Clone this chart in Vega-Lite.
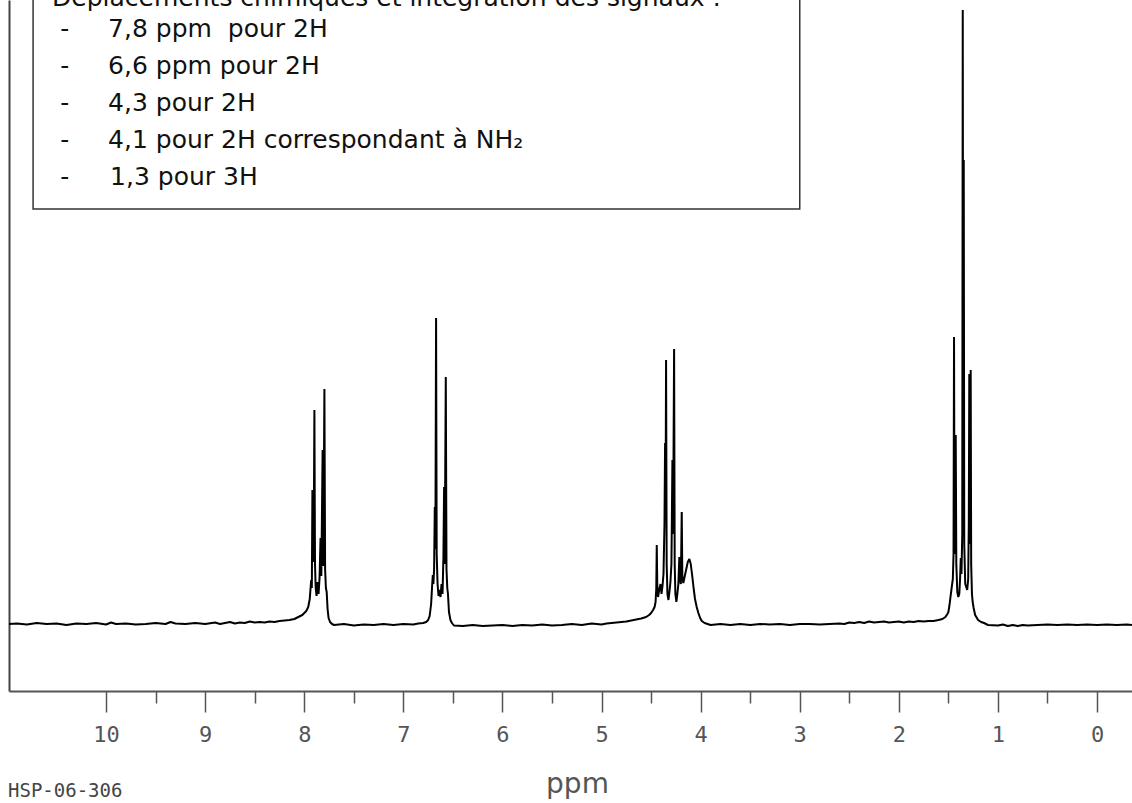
{
  "$schema": "https://vega.github.io/schema/vega-lite/v6.json",
  "width": 1123,
  "height": 691,
  "autosize": "none",
  "padding": {"left": 9, "top": 0, "right": 0, "bottom": 112},
  "background": "white",
  "config": {"view": {"stroke": null}},
  "datasets": {
    "spectrum": [
      {"ppm": 10.98, "int": 0}, {"ppm": 10.9, "int": 0.5}, {"ppm": 10.8, "int": -0.5}, {"ppm": 10.7, "int": 1}, {"ppm": 10.6, "int": 0},
      {"ppm": 10.5, "int": 0.5}, {"ppm": 10.4, "int": -1}, {"ppm": 10.3, "int": 0.5}, {"ppm": 10.2, "int": 0}, {"ppm": 10.1, "int": 1},
      {"ppm": 10.0, "int": -0.5}, {"ppm": 9.95, "int": 1.5}, {"ppm": 9.9, "int": 0}, {"ppm": 9.8, "int": 0.5}, {"ppm": 9.7, "int": -0.5},
      {"ppm": 9.6, "int": 0}, {"ppm": 9.5, "int": 1}, {"ppm": 9.4, "int": 0}, {"ppm": 9.35, "int": 2}, {"ppm": 9.3, "int": 0.5},
      {"ppm": 9.2, "int": 0}, {"ppm": 9.1, "int": 1}, {"ppm": 9.0, "int": 0}, {"ppm": 8.9, "int": 1.5}, {"ppm": 8.85, "int": 0},
      {"ppm": 8.8, "int": 1}, {"ppm": 8.75, "int": 2}, {"ppm": 8.7, "int": 0.5}, {"ppm": 8.65, "int": 1.5}, {"ppm": 8.6, "int": 1},
      {"ppm": 8.55, "int": 2.5}, {"ppm": 8.5, "int": 1.5}, {"ppm": 8.45, "int": 2}, {"ppm": 8.4, "int": 1.5}, {"ppm": 8.35, "int": 2.5},
      {"ppm": 8.3, "int": 2}, {"ppm": 8.25, "int": 3}, {"ppm": 8.2, "int": 3.5}, {"ppm": 8.15, "int": 4}, {"ppm": 8.1, "int": 5},
      {"ppm": 8.06, "int": 7}, {"ppm": 8.02, "int": 9}, {"ppm": 7.98, "int": 13}, {"ppm": 7.96, "int": 17}, {"ppm": 7.945, "int": 25},
      {"ppm": 7.935, "int": 38}, {"ppm": 7.93, "int": 44}, {"ppm": 7.924, "int": 36}, {"ppm": 7.918, "int": 134}, {"ppm": 7.912, "int": 62},
      {"ppm": 7.905, "int": 78}, {"ppm": 7.898, "int": 214}, {"ppm": 7.892, "int": 60}, {"ppm": 7.885, "int": 36}, {"ppm": 7.876, "int": 28},
      {"ppm": 7.866, "int": 42}, {"ppm": 7.856, "int": 30}, {"ppm": 7.846, "int": 46}, {"ppm": 7.836, "int": 86}, {"ppm": 7.828, "int": 48},
      {"ppm": 7.815, "int": 174}, {"ppm": 7.808, "int": 58}, {"ppm": 7.797, "int": 235}, {"ppm": 7.79, "int": 55}, {"ppm": 7.782, "int": 36},
      {"ppm": 7.774, "int": 32}, {"ppm": 7.765, "int": 15}, {"ppm": 7.755, "int": 6}, {"ppm": 7.74, "int": 2}, {"ppm": 7.72, "int": 0},
      {"ppm": 7.7, "int": -1}, {"ppm": 7.6, "int": 0}, {"ppm": 7.5, "int": -1.5}, {"ppm": 7.4, "int": -0.5}, {"ppm": 7.3, "int": -1},
      {"ppm": 7.2, "int": 0}, {"ppm": 7.1, "int": -1}, {"ppm": 7.0, "int": 0}, {"ppm": 6.9, "int": -0.5}, {"ppm": 6.85, "int": 0.5},
      {"ppm": 6.8, "int": 1}, {"ppm": 6.77, "int": 2}, {"ppm": 6.75, "int": 4}, {"ppm": 6.735, "int": 8}, {"ppm": 6.72, "int": 20},
      {"ppm": 6.71, "int": 38}, {"ppm": 6.703, "int": 49}, {"ppm": 6.697, "int": 40}, {"ppm": 6.69, "int": 55}, {"ppm": 6.683, "int": 117},
      {"ppm": 6.677, "int": 75}, {"ppm": 6.67, "int": 306}, {"ppm": 6.664, "int": 70}, {"ppm": 6.655, "int": 40}, {"ppm": 6.645, "int": 28},
      {"ppm": 6.635, "int": 34}, {"ppm": 6.625, "int": 27}, {"ppm": 6.615, "int": 40}, {"ppm": 6.605, "int": 30}, {"ppm": 6.596, "int": 67},
      {"ppm": 6.589, "int": 137}, {"ppm": 6.583, "int": 60}, {"ppm": 6.572, "int": 247}, {"ppm": 6.565, "int": 55}, {"ppm": 6.557, "int": 36},
      {"ppm": 6.55, "int": 30}, {"ppm": 6.54, "int": 12}, {"ppm": 6.525, "int": 4}, {"ppm": 6.51, "int": 1}, {"ppm": 6.49, "int": -1.5},
      {"ppm": 6.4, "int": -2}, {"ppm": 6.3, "int": -1}, {"ppm": 6.2, "int": -2}, {"ppm": 6.1, "int": -1.5}, {"ppm": 6.0, "int": -1},
      {"ppm": 5.9, "int": -2}, {"ppm": 5.8, "int": -1}, {"ppm": 5.7, "int": -1.5}, {"ppm": 5.6, "int": -0.5}, {"ppm": 5.5, "int": -1.5},
      {"ppm": 5.4, "int": -1}, {"ppm": 5.3, "int": 0}, {"ppm": 5.2, "int": -1}, {"ppm": 5.1, "int": 0.5}, {"ppm": 5.0, "int": -0.5},
      {"ppm": 4.95, "int": 0.5}, {"ppm": 4.9, "int": 1}, {"ppm": 4.85, "int": 1.5}, {"ppm": 4.8, "int": 2}, {"ppm": 4.75, "int": 2.5},
      {"ppm": 4.7, "int": 3.5}, {"ppm": 4.65, "int": 4.5}, {"ppm": 4.6, "int": 5.5}, {"ppm": 4.55, "int": 7}, {"ppm": 4.52, "int": 9},
      {"ppm": 4.5, "int": 11}, {"ppm": 4.48, "int": 14}, {"ppm": 4.465, "int": 17}, {"ppm": 4.455, "int": 22}, {"ppm": 4.448, "int": 35},
      {"ppm": 4.443, "int": 79}, {"ppm": 4.438, "int": 40}, {"ppm": 4.43, "int": 27}, {"ppm": 4.42, "int": 33}, {"ppm": 4.405, "int": 40},
      {"ppm": 4.395, "int": 30}, {"ppm": 4.385, "int": 38}, {"ppm": 4.375, "int": 50}, {"ppm": 4.365, "int": 100}, {"ppm": 4.359, "int": 181},
      {"ppm": 4.354, "int": 120}, {"ppm": 4.349, "int": 264}, {"ppm": 4.343, "int": 60}, {"ppm": 4.335, "int": 30}, {"ppm": 4.325, "int": 24},
      {"ppm": 4.315, "int": 32}, {"ppm": 4.305, "int": 42}, {"ppm": 4.295, "int": 60}, {"ppm": 4.29, "int": 110}, {"ppm": 4.285, "int": 164},
      {"ppm": 4.278, "int": 90}, {"ppm": 4.268, "int": 275}, {"ppm": 4.262, "int": 60}, {"ppm": 4.255, "int": 30}, {"ppm": 4.245, "int": 22},
      {"ppm": 4.235, "int": 30}, {"ppm": 4.225, "int": 40}, {"ppm": 4.215, "int": 67}, {"ppm": 4.208, "int": 45}, {"ppm": 4.2, "int": 40},
      {"ppm": 4.191, "int": 112}, {"ppm": 4.185, "int": 48}, {"ppm": 4.175, "int": 41}, {"ppm": 4.16, "int": 48}, {"ppm": 4.145, "int": 55},
      {"ppm": 4.13, "int": 62}, {"ppm": 4.114, "int": 65}, {"ppm": 4.1, "int": 60}, {"ppm": 4.085, "int": 48}, {"ppm": 4.07, "int": 35},
      {"ppm": 4.057, "int": 25}, {"ppm": 4.04, "int": 17}, {"ppm": 4.023, "int": 11}, {"ppm": 4.005, "int": 6}, {"ppm": 3.989, "int": 3},
      {"ppm": 3.96, "int": 1}, {"ppm": 3.93, "int": 0}, {"ppm": 3.9, "int": -1}, {"ppm": 3.8, "int": 0}, {"ppm": 3.7, "int": -1},
      {"ppm": 3.6, "int": 0}, {"ppm": 3.5, "int": -1}, {"ppm": 3.4, "int": 0}, {"ppm": 3.3, "int": -0.5}, {"ppm": 3.2, "int": 0},
      {"ppm": 3.1, "int": -1}, {"ppm": 3.0, "int": 0}, {"ppm": 2.9, "int": 0}, {"ppm": 2.8, "int": -0.5}, {"ppm": 2.7, "int": 0},
      {"ppm": 2.6, "int": 0.5}, {"ppm": 2.55, "int": 0}, {"ppm": 2.5, "int": 1.5}, {"ppm": 2.45, "int": 1}, {"ppm": 2.4, "int": 2},
      {"ppm": 2.35, "int": 1}, {"ppm": 2.3, "int": 2.5}, {"ppm": 2.25, "int": 1.5}, {"ppm": 2.2, "int": 2}, {"ppm": 2.15, "int": 2.5},
      {"ppm": 2.1, "int": 1.5}, {"ppm": 2.05, "int": 2}, {"ppm": 2.0, "int": 2.5}, {"ppm": 1.95, "int": 1.5}, {"ppm": 1.9, "int": 2.5},
      {"ppm": 1.85, "int": 2}, {"ppm": 1.8, "int": 3}, {"ppm": 1.75, "int": 2.5}, {"ppm": 1.7, "int": 3}, {"ppm": 1.65, "int": 3},
      {"ppm": 1.6, "int": 4}, {"ppm": 1.56, "int": 5}, {"ppm": 1.53, "int": 7}, {"ppm": 1.51, "int": 10}, {"ppm": 1.5, "int": 12},
      {"ppm": 1.49, "int": 18}, {"ppm": 1.475, "int": 30}, {"ppm": 1.466, "int": 37}, {"ppm": 1.455, "int": 45}, {"ppm": 1.448, "int": 70},
      {"ppm": 1.443, "int": 287}, {"ppm": 1.438, "int": 70}, {"ppm": 1.43, "int": 80}, {"ppm": 1.426, "int": 189}, {"ppm": 1.42, "int": 60},
      {"ppm": 1.41, "int": 32}, {"ppm": 1.4, "int": 27}, {"ppm": 1.39, "int": 30}, {"ppm": 1.382, "int": 45}, {"ppm": 1.375, "int": 66},
      {"ppm": 1.368, "int": 50}, {"ppm": 1.36, "int": 90}, {"ppm": 1.355, "int": 614}, {"ppm": 1.35, "int": 150}, {"ppm": 1.345, "int": 464},
      {"ppm": 1.34, "int": 80}, {"ppm": 1.33, "int": 40}, {"ppm": 1.32, "int": 37}, {"ppm": 1.31, "int": 34}, {"ppm": 1.3, "int": 45},
      {"ppm": 1.294, "int": 100}, {"ppm": 1.289, "int": 250}, {"ppm": 1.284, "int": 80}, {"ppm": 1.279, "int": 120}, {"ppm": 1.275, "int": 254},
      {"ppm": 1.27, "int": 60}, {"ppm": 1.262, "int": 30}, {"ppm": 1.255, "int": 22}, {"ppm": 1.245, "int": 16}, {"ppm": 1.23, "int": 9},
      {"ppm": 1.2, "int": 4}, {"ppm": 1.17, "int": 2}, {"ppm": 1.14, "int": 1}, {"ppm": 1.1, "int": -1}, {"ppm": 1.0, "int": -1.5},
      {"ppm": 0.95, "int": -0.5}, {"ppm": 0.9, "int": -2}, {"ppm": 0.85, "int": -1}, {"ppm": 0.8, "int": -2}, {"ppm": 0.75, "int": -1},
      {"ppm": 0.7, "int": -1.5}, {"ppm": 0.6, "int": -1}, {"ppm": 0.5, "int": -0.5}, {"ppm": 0.4, "int": -1}, {"ppm": 0.3, "int": -0.5},
      {"ppm": 0.2, "int": -1}, {"ppm": 0.1, "int": -0.5}, {"ppm": 0.0, "int": -1}, {"ppm": -0.1, "int": -0.5}, {"ppm": -0.2, "int": -1},
      {"ppm": -0.3, "int": -0.5}, {"ppm": -0.353, "int": -1}
    ],
    "box": [{"ppm": 10.737, "ppm2": 3.0, "int": 415, "int2": 720}],
    "dashes": [
      {"ppm": 10.464, "int": 587, "t": "-"}, {"ppm": 10.464, "int": 550, "t": "-"}, {"ppm": 10.464, "int": 513, "t": "-"},
      {"ppm": 10.464, "int": 476, "t": "-"}, {"ppm": 10.464, "int": 439, "t": "-"}
    ],
    "lines": [
      {"ppm": 10.545, "int": 618, "t": "Déplacements chimiques et intégration des signaux :"},
      {"ppm": 9.98, "int": 587, "t": "7,8 ppm\u00a0 pour 2H"},
      {"ppm": 9.98, "int": 550, "t": "6,6 ppm pour 2H"},
      {"ppm": 9.98, "int": 513, "t": "4,3 pour 2H"},
      {"ppm": 9.98, "int": 476, "t": "4,1 pour 2H correspondant à NH₂"},
      {"ppm": 9.96, "int": 439, "t": "1,3 pour 3H"}
    ],
    "code": [{"ppm": 10.99, "int": -173, "t": "HSP-06-306"}]
  },
  "encoding": {
    "x": {
      "field": "ppm",
      "type": "quantitative",
      "scale": {"domain": [-0.353, 10.98], "reverse": true, "nice": false, "zero": false},
      "axis": {
        "values": [0, 0.5, 1, 1.5, 2, 2.5, 3, 3.5, 4, 4.5, 5, 5.5, 6, 6.5, 7, 7.5, 8, 8.5, 9, 9.5, 10],
        "title": "ppm",
        "grid": false,
        "domainColor": "#555",
        "domainWidth": 2,
        "tickColor": "#555",
        "tickWidth": 1.5,
        "tickSize": {"condition": {"test": "datum.value % 1 === 0", "value": 21}, "value": 12},
        "labelExpr": "datum.value % 1 === 0 ? format(datum.value, 'd') : ''",
        "labelFont": "DejaVu Sans Mono",
        "labelFontSize": 22,
        "labelColor": "#555",
        "labelPadding": 12,
        "labelOverlap": false,
        "labelFlush": false,
        "titleFont": "DejaVu Sans",
        "titleFontSize": 28,
        "titleFontWeight": "normal",
        "titleColor": "#555",
        "titleY": 79,
        "titleX": 568,
        "titleBaseline": "top"
      }
    },
    "y": {
      "field": "int",
      "type": "quantitative",
      "scale": {"domain": [-67, 624], "nice": false, "zero": false},
      "axis": {"ticks": false, "labels": false, "grid": false, "title": null, "domainColor": "#444", "domainWidth": 2}
    }
  },
  "layer": [
    {
      "data": {"name": "spectrum"},
      "mark": {"type": "line", "color": "black", "strokeWidth": 2, "strokeJoin": "bevel"}
    },
    {
      "data": {"name": "box"},
      "mark": {"type": "rect", "fill": "transparent", "stroke": "#333", "strokeWidth": 1.5},
      "encoding": {"x2": {"field": "ppm2"}, "y2": {"field": "int2"}}
    },
    {
      "data": {"name": "dashes"},
      "mark": {"type": "text", "align": "left", "baseline": "alphabetic", "font": "DejaVu Sans", "fontSize": 25, "color": "#111"},
      "encoding": {"text": {"field": "t"}}
    },
    {
      "data": {"name": "lines"},
      "mark": {"type": "text", "align": "left", "baseline": "alphabetic", "font": "DejaVu Sans", "fontSize": 25, "color": "#111"},
      "encoding": {"text": {"field": "t"}}
    },
    {
      "data": {"name": "code"},
      "mark": {"type": "text", "align": "left", "baseline": "alphabetic", "font": "DejaVu Sans Mono", "fontSize": 19, "color": "#444"},
      "encoding": {"text": {"field": "t"}}
    }
  ]
}
